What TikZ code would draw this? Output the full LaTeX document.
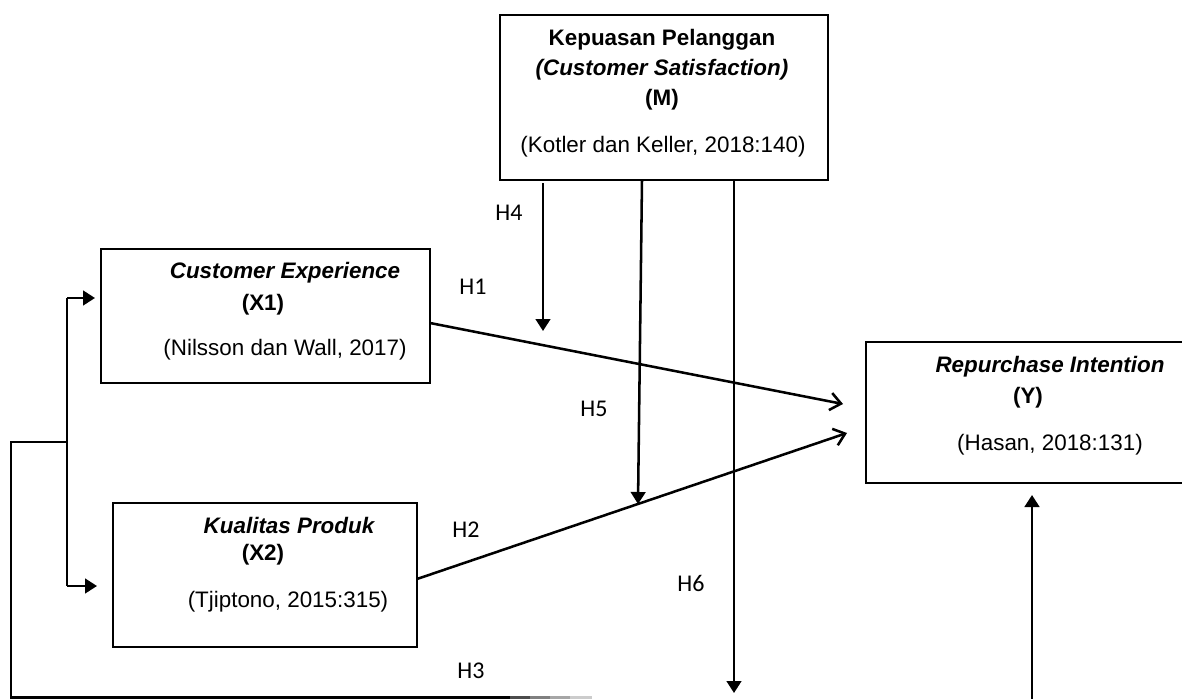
\documentclass[tikz,border=0pt]{standalone}
\usepackage{fontspec}
\setmainfont{Liberation Sans}
\newfontfamily\hfont{Carlito}
\usetikzlibrary{arrows.meta,calc}
\begin{document}
\begin{tikzpicture}[x=0.75pt,y=-0.75pt,
  box/.style={draw, line width=2.2pt, inner sep=0pt, outer sep=0pt},
  txt/.style={inner sep=0pt, font=\fontsize{16.8}{20}\selectfont, text height=12pt, text depth=3.5pt},
  bi/.style={txt, font=\fontsize{16.8}{20}\selectfont\bfseries\itshape},
  bf/.style={txt, font=\fontsize{16.8}{20}\selectfont\bfseries},
  hl/.style={inner sep=0pt, font=\hfont\fontsize{18}{20}\selectfont},
  conn/.style={line width=1.9pt},
  tri/.style={conn, -{Triangle[length=9pt,width=11pt]}},
  barb/.style={conn, -{Straight Barb[length=8pt,width=13pt]}},
]
\useasboundingbox (0,0) rectangle (1182,699);

% boxes
\node[box, minimum width=246pt, minimum height=123.75pt] (m) at (664,97.5) {};
\node[box, minimum width=246.75pt, minimum height=100.5pt] (x1) at (265.5,316) {};
\node[box, minimum width=228pt, minimum height=108pt] (x2) at (265,575) {};
\node[box, minimum width=237.75pt, minimum height=105.75pt] (y) at (1024.5,412.5) {};

% texts M
\node[bf] (m1) at (662,40) {Kepuasan Pelanggan};
\node[bi] (m2) at (662,70) {(Customer Satisfaction)};
\node[bf] (m3) at (662,100) {(M)};
\node[txt] (m4) at (663,147) {(Kotler dan Keller, 2018:140)};
% texts X1
\node[bi] (a1) at (285,273) {Customer Experience};
\node[bf] (a2) at (263,305) {(X1)};
\node[txt] (a3) at (285,350) {(Nilsson dan Wall, 2017)};
% texts X2
\node[bi] (b1) at (289,528) {Kualitas Produk};
\node[bf] (b2) at (263,555) {(X2)};
\node[txt] (b3) at (288,602) {(Tjiptono, 2015:315)};
% texts Y
\node[bi] (c1) at (1050,367) {Repurchase Intention};
\node[bf] (c2) at (1028,398) {(Y)};
\node[txt] (c3) at (1050,445) {(Hasan, 2018:131)};

% hypothesis labels
\node[hl] (h4) at (509,213) {H4};
\node[hl] (h1) at (473,287) {H1};
\node[hl] (h5) at (594,409) {H5};
\node[hl] (h2) at (466,530) {H2};
\node[hl] (h6) at (691,583) {H6};
\node[hl] (h3) at (471,671) {H3};

% coordinates
\coordinate (t1) at (843,404);
\coordinate (t2) at (847,433);
\coordinate (h4s) at (543,183);
\coordinate (h4t) at (543,331);
\coordinate (h5s) at (642,180);
\coordinate (h5t) at (638,504);
\coordinate (h6s) at (734,180);
\coordinate (h6t) at (734,693);
\coordinate (ups) at (1032,702);
\coordinate (upt) at (1032,495);
\coordinate (l1) at (95,298);
\coordinate (l2) at (97,586);
\coordinate (v1) at (67,298);
\coordinate (v2) at (67,586);
\coordinate (j) at (67,442);
\coordinate (c0) at (11,442);
\coordinate (b0) at (11,697.5);
\coordinate (be1) at (510,697.5);
\coordinate (be2) at (530,697.5);
\coordinate (be3) at (550,697.5);
\coordinate (be4) at (570,697.5);
\coordinate (be5) at (592,697.5);

% connectors
\draw[barb] ($(x1.east)+(0,7)$) -- (t1);
\draw[barb] ($(x2.east)+(0,4)$) -- (t2);
\draw[tri] (h4s) -- (h4t);
\draw[tri] (h5s) -- (h5t);
\draw[tri] (h6s) -- (h6t);
\draw[tri] (ups) -- (upt);
\draw[conn] (v1) -- (v2);
\draw[tri] (v1) -- (l1);
\draw[tri] (v2) -- (l2);
\draw[conn] (be1) -- (b0) -- (c0) -- (j);
\draw[conn, black!70] (be1) -- (be2);
\draw[conn, black!50] (be2) -- (be3);
\draw[conn, black!35] (be3) -- (be4);
\draw[conn, black!20] (be4) -- (be5);
\end{tikzpicture}
\end{document}
